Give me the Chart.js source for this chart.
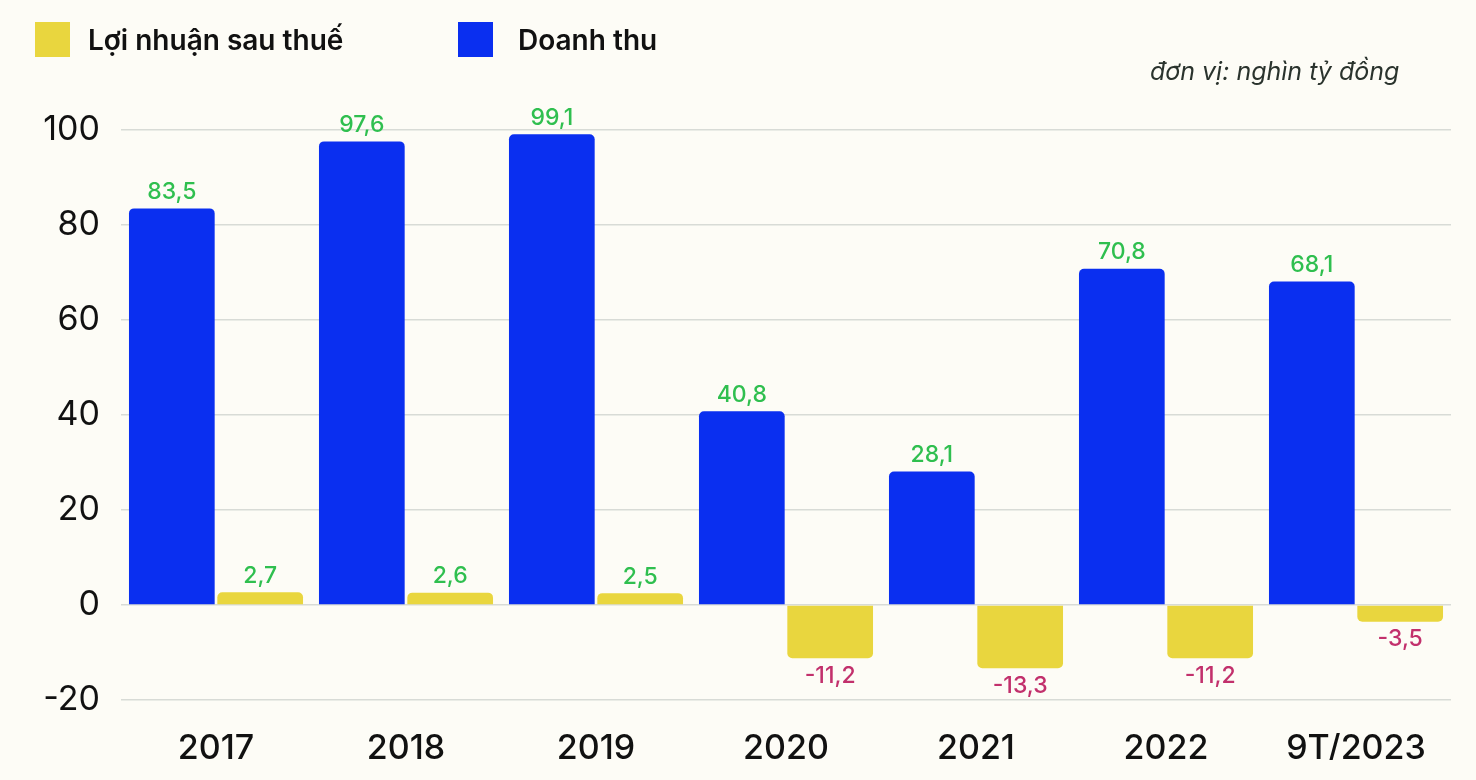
<!DOCTYPE html>
<html>
<head>
<meta charset="utf-8">
<script src="https://cdn.jsdelivr.net/npm/chart.js@4"></script>
<style>
  html, body { margin: 0; padding: 0; background: #fdfcf6; }
  #wrap { position: relative; width: 1476px; height: 780px; font-family: Inter, "Noto Sans", sans-serif; }
  canvas { position: absolute; left: 0; top: 0; }
  .leg { position: absolute; top: 22px; display: flex; align-items: center; font-size: 28px; font-weight: 600; color: #111; }
  .leg span.box { display: inline-block; width: 35px; height: 35px; }
  #unit { position: absolute; left: 1150px; top: 56px; font-size: 25px; font-style: italic; color: #2a332d; }
</style>
</head>
<body>
<div id="wrap">
  <canvas id="chart" width="1476" height="780"></canvas>
  <div class="leg" style="left:35px"><span class="box" style="background:#e9d63e;margin-right:18px"></span>Lợi nhuận sau thuế</div>
  <div class="leg" style="left:458px"><span class="box" style="background:#0a2ff0;margin-right:25px"></span>Doanh thu</div>
  <div id="unit">đơn vị: nghìn tỷ đồng</div>
</div>
<script>
const categories = ["2017", "2018", "2019", "2020", "2021", "2022", "9T/2023"];
const doanhThu = [83.5, 97.6, 99.1, 40.8, 28.1, 70.8, 68.1];
const loiNhuan = [2.7, 2.6, 2.5, -11.2, -13.3, -11.2, -3.5];
const yTicks = [-20, 0, 20, 40, 60, 80, 100];

// nhãn giá trị trên/dưới cột
const valueLabels = {
    id: "valueLabels",
    afterDatasetsDraw(chart) {
        const ctx = chart.ctx;
        ctx.save();
        ctx.font = "500 23px Inter, 'Noto Sans', sans-serif";
        ctx.textAlign = "center";
        chart.data.datasets.forEach((ds, i) => {
            chart.getDatasetMeta(i).data.forEach((bar, j) => {
                const v = ds.data[j];
                const txt = v.toFixed(1).replace(".", ",");
                if (v >= 0) {
                    ctx.fillStyle = "#2fbf4f";
                    ctx.textBaseline = "bottom";
                    ctx.fillText(txt, bar.x, bar.y - 5);
                } else {
                    ctx.fillStyle = "#c2306c";
                    ctx.textBaseline = "top";
                    ctx.fillText(txt, bar.x, bar.y + 6);
                }
            });
        });
        ctx.restore();
    }
};

const ctx = document.getElementById("chart").getContext("2d");
new Chart(ctx, {
    type: "bar",
    data: {
        labels: categories,
        datasets: [{
            label: "Doanh thu",
            data: doanhThu,
            backgroundColor: "#0a2ff0",
            borderRadius: 5,
            barPercentage: 0.97,
            categoryPercentage: 0.93
        }, {
            label: "Lợi nhuận sau thuế",
            data: loiNhuan,
            backgroundColor: "#e9d63e",
            borderRadius: 5,
            barPercentage: 0.97,
            categoryPercentage: 0.93
        }]
    },
    options: {
        responsive: false,
        animation: false,
        layout: { padding: { top: 130, right: 25, bottom: 20, left: 0 } },
        plugins: { legend: { display: false }, tooltip: { enabled: false } },
        scales: {
            x: {
                grid: { display: false },
                border: { display: false },
                afterFit: s => { s.height = 60; },
                ticks: {
                    color: "#111",
                    padding: 20,
                    font: { family: "Inter, 'Noto Sans', sans-serif", size: 34, weight: 500 }
                }
            },
            y: {
                min: yTicks[0],
                max: yTicks[yTicks.length - 1],
                afterFit: s => { s.width = 121; },
                afterBuildTicks: s => { s.ticks = yTicks.map(v => ({ value: v })); },
                border: { display: false },
                grid: { color: "#d8dbd6", lineWidth: 1.5, drawTicks: false },
                ticks: {
                    color: "#111",
                    padding: 21,
                    font: { family: "Inter, 'Noto Sans', sans-serif", size: 34, weight: 400 }
                }
            }
        }
    },
    plugins: [valueLabels]
});
</script>
</body>
</html>
